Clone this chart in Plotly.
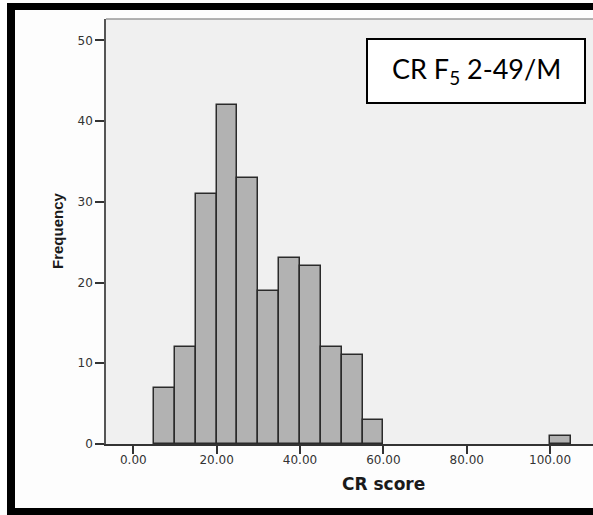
import plotly.graph_objects as go

# Data: histogram bins (left edges, width 5) and frequencies
bin_starts = [5, 10, 15, 20, 25, 30, 35, 40, 45, 50, 55, 100]
frequencies = [7, 12, 31, 42, 33, 19, 23, 22, 12, 11, 3, 1]
bin_width = 5
x_ticks = [0, 20, 40, 60, 80, 100]
y_ticks = [0, 10, 20, 30, 40, 50]

W, H = 593, 515
L, T, B = 106, 19, 444   # plot area pixels
R = 593
PW, PH = R - L, B - T

def px(x):
    return (x - L) / PW

def py(y):
    return (B - y) / PH

centers = [s + bin_width / 2 for s in bin_starts]

fig = go.Figure()
fig.add_trace(go.Bar(
    x=centers, y=frequencies, width=[bin_width] * len(centers),
    marker=dict(color="#b2b2b2", line=dict(color="#2a2a2a", width=1.5)),
    hoverinfo="x+y", showlegend=False,
))

tick_font = dict(family="DejaVu Sans", size=12, color="#333333")

fig.update_layout(
    width=W, height=H,
    margin=dict(l=L, r=W - R, t=T, b=H - B),
    paper_bgcolor="#fdfdfd",
    plot_bgcolor="#f0f0f0",
    bargap=0,
    xaxis=dict(
        range=[-6.55, 110.3], tickvals=x_ticks, tickformat=".2f",
        showgrid=False, zeroline=False, showline=True, linecolor="#333333", linewidth=1.5,
        ticks="outside", ticklen=8, tickcolor="#333333", tickwidth=1.5,
        tickfont=tick_font, ticklabelstandoff=-4,
    ),
    yaxis=dict(
        range=[0, 52.66], tickvals=y_ticks,
        showgrid=False, zeroline=False, showline=True, linecolor="#555555", linewidth=1.5,
        ticks="outside", ticklen=9, tickcolor="#333333", tickwidth=1.5,
        tickfont=tick_font,
    ),
)

shapes = []
# top border of plot area
shapes.append(dict(type="line", xref="paper", yref="paper", x0=0, x1=1.05, y0=1, y1=1,
                   line=dict(color="#999999", width=1.5)))
# outer black frame (left, top, bottom bands)
for (x0, y0, x1, y1) in [(7, 3, 15, 520), (7, 3, 600, 10), (7, 508, 600, 520)]:
    shapes.append(dict(type="rect", xref="paper", yref="paper",
                       x0=px(x0), x1=px(x1), y0=py(y1), y1=py(y0),
                       fillcolor="black", line=dict(width=0), layer="above"))
# label box
shapes.append(dict(type="rect", xref="paper", yref="paper",
                   x0=px(367), x1=px(585), y0=py(103), y1=py(39),
                   fillcolor="white", line=dict(color="black", width=2), layer="above"))
fig.update_layout(shapes=shapes)

fig.add_annotation(xref="paper", yref="paper", x=px(476), y=py(71),
                   text="CR F<sub>5</sub> 2-49/M", showarrow=False,
                   font=dict(family="Lato", size=27, color="black"),
                   xanchor="center", yanchor="middle")
fig.add_annotation(xref="paper", yref="paper", x=px(383), y=py(484),
                   text="<b>CR score</b>", showarrow=False,
                   font=dict(family="DejaVu Sans", size=17, color="#1a1a1a"),
                   xanchor="center", yanchor="middle")
fig.add_annotation(xref="paper", yref="paper", x=px(58), y=py(231),
                   text="<b>Frequency</b>", showarrow=False, textangle=-90,
                   font=dict(family="Liberation Sans", size=15, color="#1a1a1a"),
                   xanchor="center", yanchor="middle")

fig.write_html("out.html", config={"displayModeBar": False},
               post_script="document.body.style.margin='0';document.body.style.overflow='hidden';")
